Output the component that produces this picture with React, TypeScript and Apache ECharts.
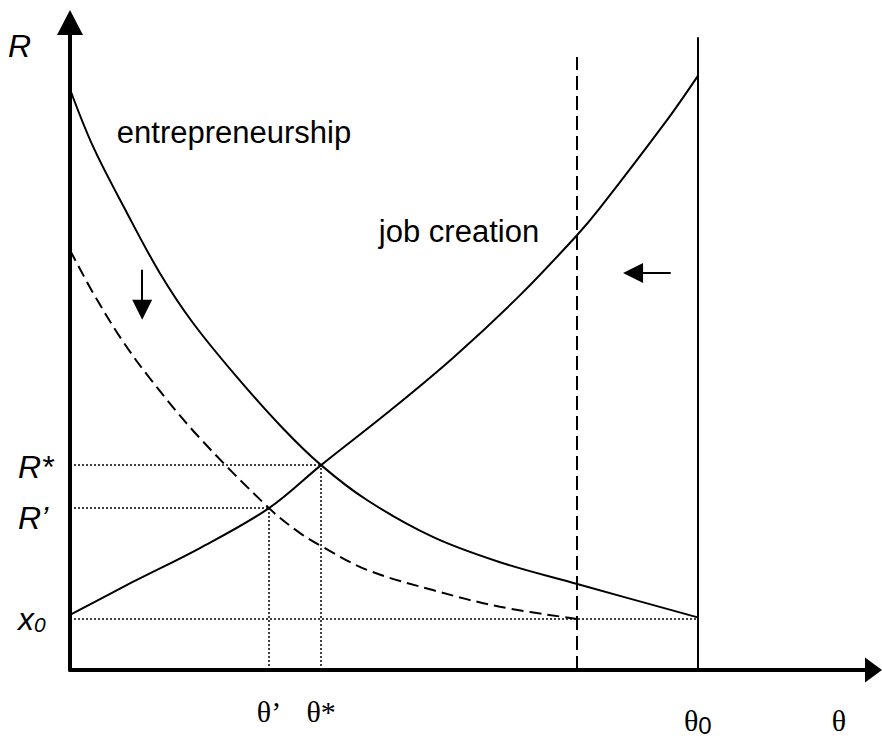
import { useEffect, useRef } from "react";
import * as echarts from "echarts";

// ---- data (θ on the horizontal axis, R on the vertical axis) ----
const jobTheta = [0, 1.0, 2.07, 3.17, 4.0, 5.05, 6.1, 7.17, 8.08, 8.44, 9.51, 10.0];
const jobR = [1.09, 1.74, 2.41, 3.2, 4.05, 5.08, 6.17, 7.41, 8.6, 9.13, 10.87, 11.74];

const entTheta = [0, 0.37, 0.91, 1.43, 1.96, 2.66, 3.39, 4.0, 4.73, 5.78, 6.85, 8.08, 10.0];
const entR = [11.48, 10.34, 9.03, 7.85, 6.86, 5.79, 4.78, 4.05, 3.36, 2.63, 2.13, 1.7, 1.04];

const entShiftTheta = [0, 0.37, 0.83, 1.27, 2.02, 3.17, 3.66, 4.0, 4.73, 5.78, 6.85, 8.08];
const entShiftR = [8.3, 7.45, 6.52, 5.77, 4.65, 3.2, 2.71, 2.45, 1.98, 1.58, 1.25, 1.01];

const thetaPrime = 3.17;
const thetaStar = 4.0;
const thetaShift = 8.08;
const theta0 = 10.0;
const rStar = 4.05;
const rPrime = 3.2;
const x0 = 1.01;
const theta0Top = 12.51;
const thetaShiftTop = 12.12;

// arrows: [θ start, R start, θ end, R end]
const downArrow = [1.15, 7.91, 1.15, 7.12];
const leftArrow = [9.57, 7.85, 8.97, 7.85];

// tick labels
const thetaTickValues = [thetaPrime, thetaStar, theta0, 12.25];
const thetaTickLabels = ["{t|θ’}", "{t|θ*}", "{tl|θ}{s|0}", "{tl|θ}"];
const rTickValues = [x0, rPrime, rStar, 12.33];
const rTickLabels = ["{xi|x}{xs|0}", "{rp|R’}", "{rs|R*}", "{r|R}"];

const zip = (a: number[], b: number[]) => a.map((v, i) => [v, b[i]]);

const BLACK = "#000";
const SANS = "'Liberation Sans', Arial, sans-serif";
const SERIF = "'Liberation Serif', 'Times New Roman', serif";

export default function App() {
  const ref = useRef<HTMLDivElement>(null);
  useEffect(() => {
    if (!ref.current) return;
    const chart = echarts.init(ref.current, undefined, { renderer: "svg" });
    const dotted = { color: BLACK, width: 1.5, type: [2, 2] as number[] };
    const seg = (a: number[], b: number[], ls: any) => [
      { coord: a, lineStyle: ls },
      { coord: b },
    ];
    chart.setOption({
      animation: false,
      backgroundColor: "#fff",
      grid: { left: 70, top: 22.5, right: 8.5, bottom: 70 },
      xAxis: {
        type: "value",
        min: 0,
        max: 12.8,
        splitLine: { show: false },
        axisTick: { show: false },
        axisLine: {
          onZero: false,
          symbol: ["none", "triangle"],
          symbolSize: [25, 17],
          lineStyle: { color: BLACK, width: 4 },
        },
        axisLabel: {
          customValues: thetaTickValues,
          margin: 26,
          color: BLACK,
          formatter: (v: number) => {
            const i = thetaTickValues.indexOf(v);
            return i >= 0 ? thetaTickLabels[i] : "";
          },
          rich: {
            t: { fontFamily: SERIF, fontSize: 30, color: BLACK, verticalAlign: "bottom" },
            tl: { fontFamily: SERIF, fontSize: 30, color: BLACK, padding: [9, 0, 0, 0], verticalAlign: "bottom" },
            s: { fontFamily: SANS, fontSize: 24, color: BLACK, verticalAlign: "bottom", padding: [0, 0, -2, 0] },
          },
        },
      },
      yAxis: {
        type: "value",
        min: 0,
        max: 12.8,
        splitLine: { show: false },
        axisTick: { show: false },
        axisLine: {
          onZero: false,
          symbol: ["none", "triangle"],
          symbolSize: [26, 25],
          lineStyle: { color: BLACK, width: 4 },
        },
        axisLabel: {
          customValues: rTickValues,
          margin: 62,
          align: "left",
          color: BLACK,
          formatter: (v: number) => {
            const i = rTickValues.indexOf(v);
            return i >= 0 ? rTickLabels[i] : "";
          },
          rich: {
            r: { fontFamily: SANS, fontStyle: "italic", fontSize: 32, color: BLACK },
            rs: { fontFamily: SANS, fontStyle: "italic", fontSize: 32, color: BLACK, padding: [4, 0, 0, 10] },
            rp: { fontFamily: SANS, fontStyle: "italic", fontSize: 32, color: BLACK, padding: [20, 0, 0, 10] },
            xi: { fontFamily: SANS, fontStyle: "italic", fontSize: 32, color: BLACK, padding: [0, 0, 0, 10], verticalAlign: "bottom" },
            xs: { fontFamily: SANS, fontStyle: "italic", fontSize: 21, color: BLACK, verticalAlign: "bottom" },
          },
        },
      },
      series: [
        {
          name: "job creation",
          type: "line",
          data: zip(jobTheta, jobR),
          smooth: 0.35,
          symbol: "none",
          lineStyle: { color: BLACK, width: 2 },
          z: 5,
        },
        {
          name: "entrepreneurship",
          type: "line",
          data: zip(entTheta, entR),
          smooth: 0.35,
          symbol: "none",
          lineStyle: { color: BLACK, width: 2 },
          z: 5,
        },
        {
          name: "entrepreneurship (shifted)",
          type: "line",
          data: zip(entShiftTheta, entShiftR),
          smooth: 0.35,
          symbol: "none",
          lineStyle: { color: BLACK, width: 2, type: [12, 6] },
          z: 5,
        },
        {
          name: "guides",
          type: "line",
          data: [],
          markLine: {
            silent: true,
            symbol: ["none", "none"],
            label: { show: false },
            emphasis: { disabled: true },
            data: [
              seg([0, rStar], [thetaStar, rStar], dotted),
              seg([0, rPrime], [thetaPrime, rPrime], dotted),
              seg([0, x0], [theta0, x0], dotted),
              seg([thetaPrime, 0], [thetaPrime, rPrime], dotted),
              seg([thetaStar, 0], [thetaStar, rStar], dotted),
              seg([theta0, 0], [theta0, theta0Top], { color: BLACK, width: 2, type: "solid" }),
              seg([thetaShift, 0], [thetaShift, thetaShiftTop], { color: BLACK, width: 2, type: [14, 6] }),
            ],
          },
        },
        {
          name: "arrows",
          type: "line",
          data: [],
          markLine: {
            silent: true,
            symbol: ["none", "triangle"],
            symbolSize: [20, 20],
            label: { show: false },
            emphasis: { disabled: true },
            data: [
              seg([downArrow[0], downArrow[1]], [downArrow[2], downArrow[3]], { color: BLACK, width: 2, type: "solid" }),
              seg([leftArrow[0], leftArrow[1]], [leftArrow[2], leftArrow[3]], { color: BLACK, width: 2, type: "solid" }),
            ],
          },
        },
      ],
      graphic: [
        {
          type: "text",
          x: 234,
          y: 132,
          style: {
            text: "entrepreneurship",
            font: `31px ${SANS}`,
            fill: BLACK,
            align: "center",
            verticalAlign: "middle",
          },
        },
        {
          type: "text",
          x: 459,
          y: 231,
          style: {
            text: "job creation",
            font: `31px ${SANS}`,
            fill: BLACK,
            align: "center",
            verticalAlign: "middle",
          },
        },
      ],
    });
    return () => chart.dispose();
  }, []);
  return (
    <div
      ref={ref}
      style={{ position: "absolute", left: 0, top: 0, width: 882, height: 740, background: "#fff" }}
    />
  );
}
